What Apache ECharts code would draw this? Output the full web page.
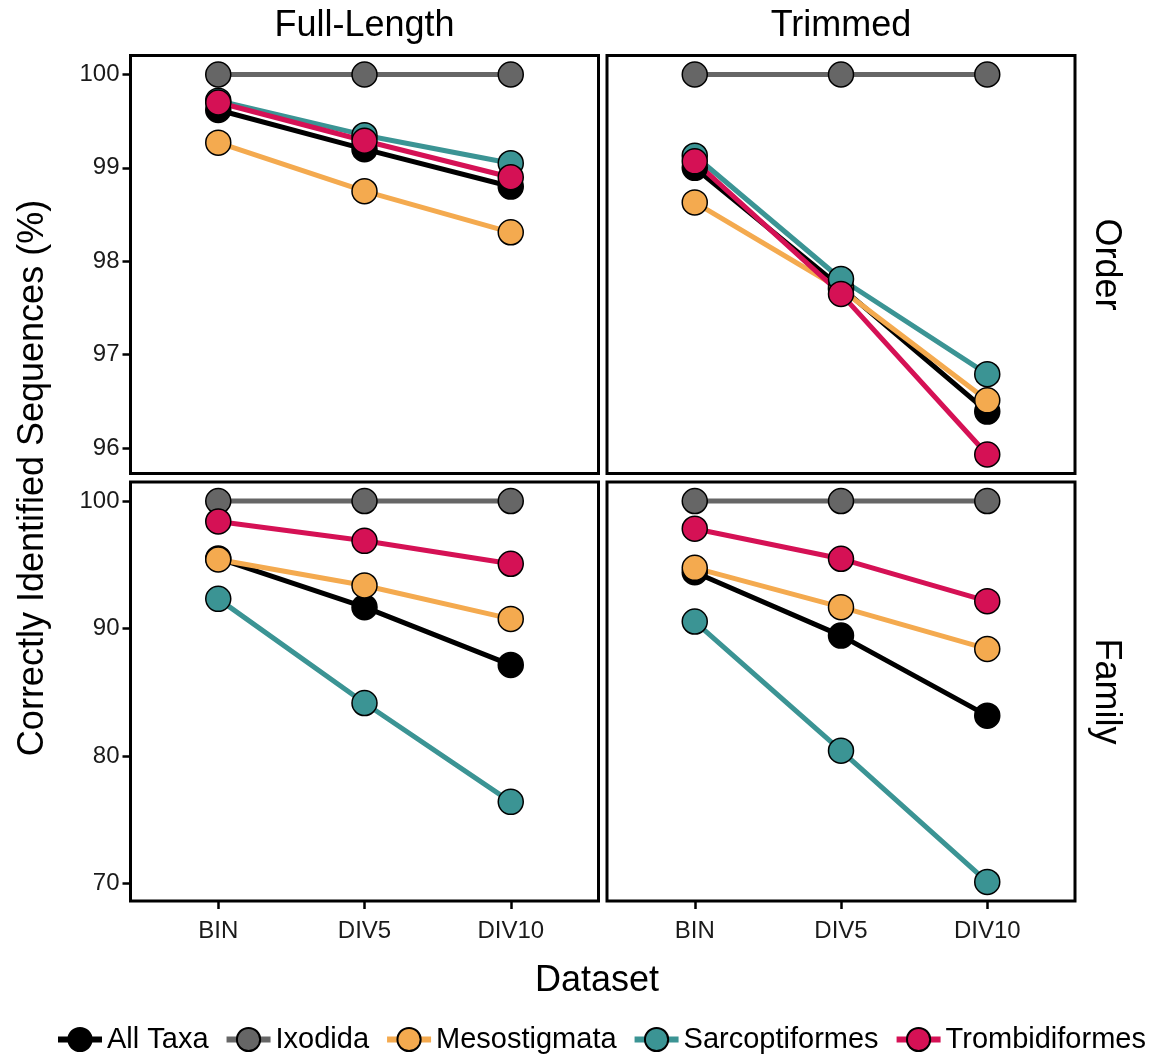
<!DOCTYPE html>
<html>
<head>
<meta charset="utf-8">
<script src="https://cdn.jsdelivr.net/npm/echarts@6/dist/echarts.min.js"></script>
<style>
html,body{margin:0;padding:0;background:#fff;}
#chart{width:1162px;height:1054px;}
</style>
</head>
<body>
<div id="chart"></div>
<script>
// ---- data ----
const categories = ['BIN', 'DIV5', 'DIV10'];
const taxa = ['All Taxa', 'Ixodida', 'Mesostigmata', 'Sarcoptiformes', 'Trombidiformes'];
const colors = ['#000000', '#666666', '#F4AA4F', '#3B9494', '#D51155'];
const columnLabels = ['Full-Length', 'Trimmed'];
const rowLabels = ['Order', 'Family'];

// Full-Length / Order
const fullOrderAllTaxa = [99.62, 99.20, 98.80];
const fullOrderIxodida = [100, 100, 100];
const fullOrderMeso = [99.27, 98.75, 98.31];
const fullOrderSarco = [99.72, 99.35, 99.05];
const fullOrderTrombi = [99.70, 99.29, 98.90];

// Trimmed / Order
const trimOrderAllTaxa = [99.00, 97.72, 96.39];
const trimOrderIxodida = [100, 100, 100];
const trimOrderMeso = [98.63, 97.70, 96.51];
const trimOrderSarco = [99.13, 97.81, 96.79];
const trimOrderTrombi = [99.07, 97.65, 95.93];

// Full-Length / Family
const fullFamilyAllTaxa = [95.50, 91.68, 87.15];
const fullFamilyIxodida = [100, 100, 100];
const fullFamilyMeso = [95.42, 93.38, 90.76];
const fullFamilySarco = [92.33, 84.16, 76.41];
const fullFamilyTrombi = [98.40, 96.88, 95.08];

// Trimmed / Family
const trimFamilyAllTaxa = [94.42, 89.45, 83.17];
const trimFamilyIxodida = [100, 100, 100];
const trimFamilyMeso = [94.76, 91.68, 88.40];
const trimFamilySarco = [90.55, 80.42, 70.13];
const trimFamilyTrombi = [97.83, 95.47, 92.15];

const orderTicks = [96, 97, 98, 99, 100];
const familyTicks = [70, 80, 90, 100];

// ---- layout ----
const panels = [
  [fullOrderAllTaxa, fullOrderIxodida, fullOrderMeso, fullOrderSarco, fullOrderTrombi],
  [trimOrderAllTaxa, trimOrderIxodida, trimOrderMeso, trimOrderSarco, trimOrderTrombi],
  [fullFamilyAllTaxa, fullFamilyIxodida, fullFamilyMeso, fullFamilySarco, fullFamilyTrombi],
  [trimFamilyAllTaxa, trimFamilyIxodida, trimFamilyMeso, trimFamilySarco, trimFamilyTrombi]
];
const FONT = '"Liberation Sans", Arial, Helvetica, sans-serif';
const gridPos = [
  {left: 130.5, top: 55.5, width: 468, height: 418},
  {left: 607, top: 55.5, width: 468, height: 418},
  {left: 130.5, top: 482, width: 468, height: 419},
  {left: 607, top: 482, width: 468, height: 419}
];
function yRange(panelIdx) {
  let mn = Infinity, mx = -Infinity;
  panelIdx.forEach(p => panels[p].forEach(s => s.forEach(v => { mn = Math.min(mn, v); mx = Math.max(mx, v); })));
  const pad = (mx - mn) * 0.05;
  return [mn - pad, mx + pad];
}
const orderRange = yRange([0, 1]);
const familyRange = yRange([2, 3]);

const grids = gridPos.map(g => Object.assign({show: true, borderColor: '#000', borderWidth: 3, backgroundColor: '#fff', containLabel: false}, g));

const xAxes = gridPos.map((g, i) => {
  const bottomRow = i >= 2;
  return {
    type: 'value', gridIndex: i, min: 0.4, max: 3.6,
    splitLine: {show: false}, axisLine: {show: false},
    axisTick: {show: bottomRow, length: 8, lineStyle: {color: '#000', width: 2.5}, customValues: [1, 2, 3]},
    axisLabel: {show: bottomRow, customValues: [1, 2, 3], margin: 18, fontSize: 24, color: '#1a1a1a', fontFamily: FONT,
      formatter: v => categories[Math.round(v) - 1] || ''}
  };
});
const yAxes = gridPos.map((g, i) => {
  const leftCol = i % 2 === 0;
  const topRow = i < 2;
  const rng = topRow ? orderRange : familyRange;
  const tks = topRow ? orderTicks : familyTicks;
  return {
    type: 'value', gridIndex: i, min: rng[0], max: rng[1],
    splitLine: {show: false}, axisLine: {show: false},
    axisTick: {show: leftCol, length: 8, lineStyle: {color: '#000', width: 2.5}, customValues: tks},
    axisLabel: {show: leftCol, customValues: tks, margin: 11, fontSize: 24, color: '#1a1a1a', fontFamily: FONT}
  };
});

const series = [];
panels.forEach((panel, p) => {
  panel.forEach((vals, t) => {
    series.push({
      type: 'line', name: taxa[t], xAxisIndex: p, yAxisIndex: p,
      data: vals.map((v, i) => [i + 1, v]),
      symbol: 'circle', showSymbol: false, z: 2,
      lineStyle: {color: colors[t], width: 5},
      itemStyle: {color: colors[t], borderColor: '#000', borderWidth: 1.5},
      silent: true, animation: false
    });
  });
});
panels.forEach((panel, p) => {
  panel.forEach((vals, t) => {
    series.push({
      type: 'scatter', name: taxa[t], xAxisIndex: p, yAxisIndex: p,
      data: vals.map((v, i) => [i + 1, v]),
      symbol: 'circle', symbolSize: 25, z: 3,
      itemStyle: {color: colors[t], borderColor: '#000', borderWidth: 1.5, opacity: 1},
      silent: true, animation: false
    });
  });
});

const textStyleBig = {fontSize: 36, fill: '#000', fontFamily: FONT};
const graphic = [
  {type: 'text', x: 364.5, y: 26, style: Object.assign({text: columnLabels[0], textAlign: 'center', textVerticalAlign: 'middle'}, textStyleBig)},
  {type: 'text', x: 841, y: 26, style: Object.assign({text: columnLabels[1], textAlign: 'center', textVerticalAlign: 'middle'}, textStyleBig)},
  {type: 'text', x: 1106, y: 264.5, rotation: -Math.PI / 2, style: Object.assign({text: rowLabels[0], textAlign: 'center', textVerticalAlign: 'middle'}, textStyleBig)},
  {type: 'text', x: 1106, y: 691.5, rotation: -Math.PI / 2, style: Object.assign({text: rowLabels[1], textAlign: 'center', textVerticalAlign: 'middle'}, textStyleBig)},
  {type: 'text', x: 33, y: 478, rotation: Math.PI / 2, style: Object.assign({text: 'Correctly Identified Sequences (%)', textAlign: 'center', textVerticalAlign: 'middle'}, textStyleBig)},
  {type: 'text', x: 597, y: 981, style: Object.assign({text: 'Dataset', textAlign: 'center', textVerticalAlign: 'middle'}, textStyleBig)}
];

const chart = echarts.init(document.getElementById('chart'), null, {renderer: 'canvas'});
chart.setOption({
  backgroundColor: '#fff',
  animation: false,
  grid: grids,
  xAxis: xAxes,
  yAxis: yAxes,
  series: series,
  graphic: graphic,
  legend: {
    data: taxa, left: 50, top: 1020,
    itemWidth: 44, itemHeight: 29, itemGap: 15,
    lineStyle: {width: 6},
    textStyle: {fontSize: 29, color: '#000', fontFamily: FONT},
    selectedMode: false
  }
});
</script>
</body>
</html>
